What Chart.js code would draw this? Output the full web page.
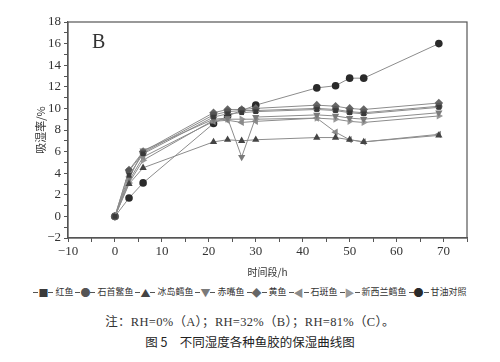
<!DOCTYPE html>
<html>
<head>
<meta charset="utf-8">
<script src="https://cdn.jsdelivr.net/npm/chart.js@4/dist/chart.umd.min.js"></script>
<style>
  body { margin: 0; background: #fff; width: 500px; height: 362px; overflow: hidden; }
  #wrap { position: relative; width: 500px; height: 282px; }
  #legend { font-family: "Noto Sans CJK SC", sans-serif; font-size: 9px; color: #333; text-align: center; white-space: nowrap; margin-top: 3px; }
  #legend .it { display: inline-block; margin: 0 1px; }
  #legend .ln { display: inline-block; width: 5px; height: 1px; background: #555; vertical-align: middle; }
  #legend .mk { display: inline-block; font-size: 10px; width: 10px; text-align: center; vertical-align: middle; line-height: 12px; }
  #note { font-family: "Liberation Serif", "Noto Sans CJK SC", serif; font-size: 12.5px; color: #333; text-align: center; margin-top: 12px; letter-spacing: 0.3px; }
  #cap { font-family: "Noto Sans CJK SC", sans-serif; font-size: 12.5px; color: #222; text-align: center; margin-top: 2px; }
</style>
</head>
<body>
<div id="wrap"><canvas id="c" width="500" height="282"></canvas></div>
<div id="legend"></div>
<div id="note">注：RH=0%（A）；RH=32%（B）；RH=81%（C）。</div>
<div id="cap">图 5　不同湿度各种鱼胶的保湿曲线图</div>
<script>
const hours = [0, 3, 6, 21, 24, 27, 30, 43, 47, 50, 53, 69];
const names = ['红鱼', '石首鳘鱼', '冰岛鳕鱼', '赤嘴鱼', '黄鱼', '石斑鱼', '新西兰鳕鱼', '甘油对照'];
const hongYu      = [0, 3.8, 5.8, 9.2, 9.5, 9.6, 9.7, 9.9, 9.8, 9.6, 9.5, 10.1];
const shiShou     = [0, 4.2, 5.9, 9.4, 9.7, 9.8, 9.8, 10.0, 9.9, 9.7, 9.6, 10.2];
const bingDao     = [0, 3.0, 4.5, 6.9, 7.1, 7.0, 7.1, 7.3, 7.3, 7.1, 6.9, 7.5];
const chiZui      = [0, 3.5, 6.1, 9.0, 9.1, 5.5, 9.2, 9.4, 9.3, 9.1, 9.0, 9.6];
const huangYu     = [0, 4.3, 6.0, 9.6, 9.9, 9.9, 10.0, 10.3, 10.2, 10.0, 9.9, 10.5];
const shiBan      = [0, 3.3, 5.5, 8.8, 8.9, 8.7, 8.8, 9.1, 7.8, 7.1, 6.9, 7.6];
const xinXiLan    = [0, 3.1, 5.2, 8.9, 9.0, 9.0, 9.0, 9.1, 9.0, 8.8, 8.7, 9.3];
const ganYou      = [0, 1.7, 3.1, 8.6, 9.3, 9.8, 10.3, 11.9, 12.1, 12.8, 12.8, 16.0];

const seriesValues = [hongYu, shiShou, bingDao, chiZui, huangYu, shiBan, xinXiLan, ganYou];
const pointStyles = ['rect', 'circle', 'triangle', 'triangle', 'rectRot', 'triangle', 'triangle', 'circle'];
const rotations = [0, 0, 0, 180, 0, 270, 90, 0];
const colors = ['#3a3a3a', '#555555', '#444444', '#7a7a7a', '#666666', '#8a8a8a', '#999999', '#2a2a2a'];
const radii = [3.3, 3.5, 4.2, 4.2, 4.3, 4.2, 4.2, 3.8];
const legendMarks = ['■', '●', '▲', '▼', '◆', '◀', '▶', '●'];

const datasets = seriesValues.map((vals, i) => ({
  label: names[i],
  data: vals.map((v, j) => ({ x: hours[j], y: v })),
  borderColor: '#8c8c8c',
  borderWidth: 1,
  pointStyle: pointStyles[i],
  rotation: rotations[i],
  pointRadius: radii[i],
  pointBackgroundColor: colors[i],
  pointBorderColor: colors[i],
  pointBorderWidth: 0,
  fill: false,
  tension: 0
}));

const frame = {
  id: 'frame',
  afterDraw(chart) {
    const { ctx, chartArea: a } = chart;
    ctx.save();
    ctx.strokeStyle = '#555';
    ctx.lineWidth = 1.2;
    ctx.strokeRect(a.left, a.top, a.right - a.left, a.bottom - a.top);
    ctx.fillStyle = '#333';
    ctx.font = '20px "Liberation Serif", serif';
    ctx.fillText('B', a.left + 24, a.top + 26);
    ctx.restore();
  }
};

const serif = '"Liberation Serif", serif';

new Chart(document.getElementById('c'), {
  type: 'line',
  data: { datasets },
  options: {
    responsive: false,
    animation: false,
    layout: { padding: { top: 22, right: 33, left: 30, bottom: 0 } },
    plugins: { legend: { display: false }, tooltip: { enabled: false } },
    scales: {
      x: {
        type: 'linear', min: -10, max: 75,
        afterFit: s => { s.height = 44; },
        grid: { display: true, drawOnChartArea: false, tickLength: 4, color: '#555' },
        border: { color: '#555', width: 1.2 },
        ticks: {
          stepSize: 5, color: '#333', padding: 2, maxRotation: 0, autoSkip: false,
          font: { family: serif, size: 13 },
          callback: v => (v % 10 === 0 ? (v < 0 ? '−' + Math.abs(v) : String(v)) : '')
        },
        title: { display: true, text: '时间段/h', color: '#333', padding: { top: 3 },
          font: { family: '"Noto Sans CJK SC", sans-serif', size: 10 } }
      },
      y: {
        min: -2, max: 18,
        afterFit: s => { s.width = 38; },
        grid: { display: true, drawOnChartArea: false, tickLength: 4, color: '#555' },
        border: { color: '#555', width: 1.2 },
        ticks: {
          stepSize: 1, color: '#333', padding: 3, autoSkip: false,
          font: { family: serif, size: 13 },
          callback: v => (v % 2 === 0 ? (v < 0 ? '−' + Math.abs(v) : String(v)) : '')
        },
        title: { display: true, text: '吸湿率/%', color: '#333', padding: { bottom: 0 },
          font: { family: '"Noto Sans CJK SC", sans-serif', size: 11 } }
      }
    }
  },
  plugins: [frame]
});

document.getElementById('legend').innerHTML = names.map((n, i) =>
  '<span class="it"><span class="ln"></span><span class="mk" style="color:' + colors[i] + '">' +
  legendMarks[i] + '</span><span class="ln"></span> ' + n + '</span>'
).join('');
</script>
</body>
</html>
